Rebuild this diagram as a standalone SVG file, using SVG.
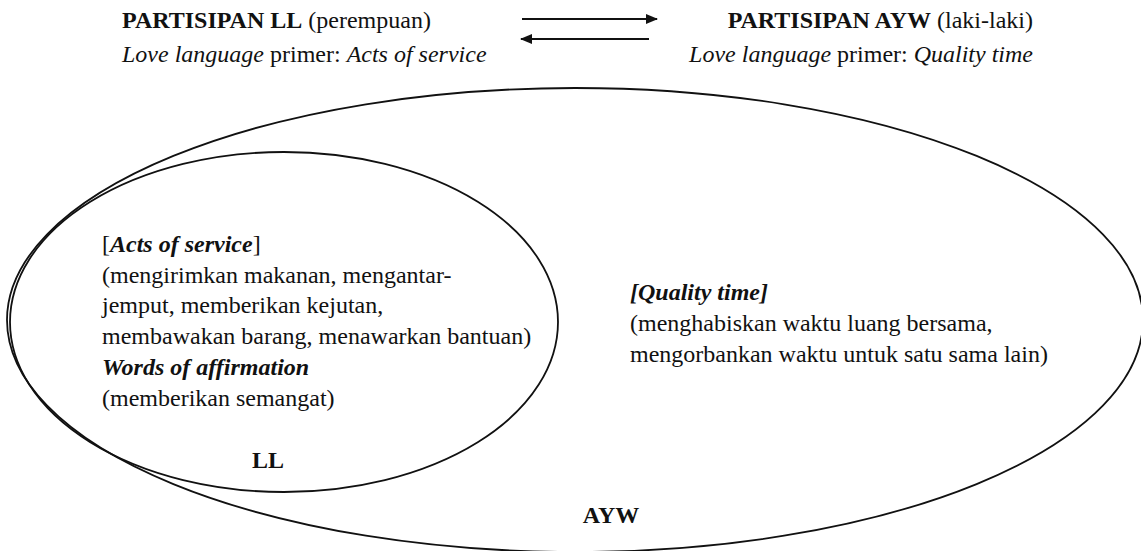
<svg xmlns="http://www.w3.org/2000/svg" width="1141" height="551" viewBox="0 0 1141 551">
<style>
text{font-family:"Liberation Serif","Times New Roman",serif;font-size:24px;fill:#111}
.b{font-weight:bold}
.i{font-style:italic}
.shape{fill:none;stroke:#111;stroke-width:1.8}
.arr{stroke:#111;stroke-width:2}
</style>
<defs>
<marker id="ah" viewBox="0 0 12 10" refX="11" refY="5" markerWidth="12" markerHeight="10" markerUnits="userSpaceOnUse" orient="auto">
<path d="M0,0 L12,5 L0,10 z" fill="#111"/>
</marker>
</defs>
<rect width="1141" height="551" fill="#fff"/>
<g id="header-ll">
<text x="122" y="28"><tspan class="b">PARTISIPAN LL</tspan> (perempuan)</text>
<text x="122" y="62"><tspan class="i">Love language</tspan> primer: <tspan class="i">Acts of service</tspan></text>
</g>
<g id="header-ayw">
<text x="1033" y="28" text-anchor="end"><tspan class="b">PARTISIPAN AYW</tspan> (laki-laki)</text>
<text x="1033" y="62" text-anchor="end"><tspan class="i">Love language</tspan> primer: <tspan class="i">Quality time</tspan></text>
</g>
<g id="connectors">
<line class="arr" x1="522" y1="19" x2="657" y2="19" marker-end="url(#ah)"/>
<line class="arr" x1="649" y1="39" x2="521" y2="39" marker-end="url(#ah)"/>
</g>
<g id="ayw">
<ellipse class="shape" cx="575" cy="320" rx="568" ry="232"/>
<text x="630" y="300" class="b i">[Quality time]</text>
<text x="630" y="331">(menghabiskan waktu luang bersama,</text>
<text x="630" y="362">mengorbankan waktu untuk satu sama lain)</text>
<text x="611" y="523" class="b" text-anchor="middle">AYW</text>
</g>
<g id="ll">
<ellipse class="shape" cx="284" cy="322" rx="274" ry="170"/>
<text x="102" y="252">[<tspan class="b i">Acts of service</tspan>]</text>
<text x="102" y="283">(mengirimkan makanan, mengantar-</text>
<text x="102" y="313">jemput, memberikan kejutan,</text>
<text x="102" y="344">membawakan barang, menawarkan bantuan)</text>
<text x="102" y="375" class="b i">Words of affirmation</text>
<text x="102" y="406">(memberikan semangat)</text>
<text x="268" y="468" class="b" text-anchor="middle">LL</text>
</g>
</svg>
